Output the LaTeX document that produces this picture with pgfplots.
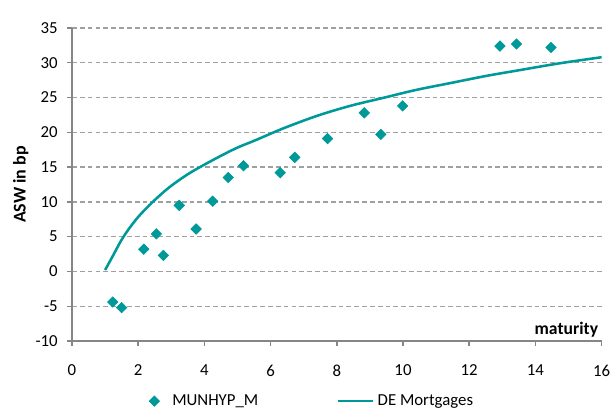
\documentclass[border=0pt]{standalone}
\usepackage{fontspec}
\setmainfont{Carlito}
\usepackage{pgfplots}
\pgfplotsset{compat=1.18}
\definecolor{tealc}{RGB}{0,153,153}
\definecolor{gridgray}{RGB}{160,160,160}
\definecolor{axgray}{RGB}{134,134,134}
\pgfplotsset{
  shortline/.style={legend image code/.code={\draw[##1] (0pt,0pt) -- (22pt,0pt);}},
  shortmark/.style={legend image code/.code={\path (0pt,0pt) (22pt,0pt); \draw[##1] plot coordinates {(13pt,0pt)};}},
}
\begin{document}
\fontsize{10pt}{12pt}\selectfont
\begin{tikzpicture}
\path[use as bounding box] (0,0) rectangle (383.125pt,256.25pt);
\begin{axis}[
  at={(45pt,43.125pt)}, anchor=south west,
  scale only axis, width=331pt, height=195.625pt,
  xmin=0, xmax=16, ymin=-10, ymax=35,
  xtick={0,2,...,16}, ytick={-10,-5,...,35},
  axis x line=bottom, axis y line=left,
  axis line style={axgray, line width=0.9pt, -},
  tick style={axgray, line width=0.9pt},
  tick align=outside, major tick length=3pt,
  ymajorgrids,
  grid style={gridgray, dash pattern=on 3pt off 1.9pt, line width=0.8pt},
  /pgf/number format/assume math mode=true,
  ticklabel style={font=\fontsize{10.5pt}{12pt}\selectfont, text=black},
  xticklabel style={yshift=-8.3pt},
  yticklabel style={xshift=-2.4pt},
  ylabel={ASW in bp},
  ylabel style={at={(axis description cs:-0.097,0.5)}, anchor=center, font=\fontsize{11.2pt}{13pt}\selectfont\bfseries},
  xlabel={maturity},
  xlabel style={at={(rel axis cs:1,0)}, anchor=base east, yshift=4pt, inner sep=2pt, font=\fontsize{11pt}{13pt}\selectfont\bfseries},
  legend columns=2,
  legend style={at={(0.4395,-0.192)}, anchor=center, draw=none, fill=none,
    font=\fontsize{10.5pt}{12pt}\selectfont,
    /tikz/every even column/.append style={column sep=47pt}},
]
\addplot[only marks, mark=square*, mark size=2.3pt, mark options={rotate=45, fill=tealc, draw=tealc}, shortmark] coordinates {
(1.23,-4.4) (1.50,-5.2) (2.17,3.2) (2.55,5.4) (2.76,2.3) (3.24,9.5)
(3.75,6.1) (4.25,10.1) (4.72,13.5) (5.18,15.2) (6.29,14.2) (6.73,16.4)
(7.72,19.1) (8.83,22.8) (9.33,19.7) (9.99,23.8) (12.93,32.4) (13.43,32.7) (14.47,32.2)
};
\addlegendentry{MUNHYP\_M}
\addplot[tealc, line width=1.6pt, smooth, no marks, shortline] coordinates {
(1.0,0.2) (1.23,2.2) (1.48,4.4) (1.73,6.2) (2.03,8.0) (2.44,10.0) (2.94,12.1)
(3.54,14.1) (4.25,16.0) (4.95,17.7) (5.56,18.9) (6.4,20.6) (7.42,22.4) (8.4,23.8)
(9.44,25.0) (10.4,26.1) (11.45,27.1) (12.5,28.1) (13.47,28.9) (14.7,29.9) (16.0,30.8)
};
\addlegendentry{DE Mortgages}
\end{axis}
\end{tikzpicture}
\end{document}
